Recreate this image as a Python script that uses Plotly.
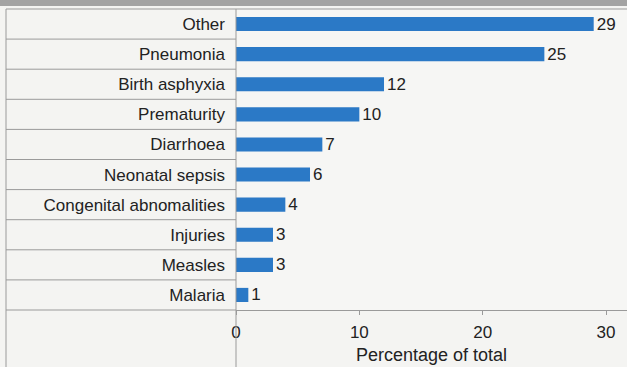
import plotly.graph_objects as go

causes = ["Other", "Pneumonia", "Birth asphyxia", "Prematurity", "Diarrhoea",
          "Neonatal sepsis", "Congenital abnomalities", "Injuries", "Measles", "Malaria"]
percent = [29, 25, 12, 10, 7, 6, 4, 3, 3, 1]
x_ticks = [0, 10, 20, 30]

W, H = 627, 367
L, R, T, B = 236, 0, 9, 57
plot_w = W - L - R
plot_h = H - T - B

line_col = "#9a9a9a"
left_edge = (6 - L) / plot_w

fig = go.Figure(go.Bar(
    x=percent, y=causes, orientation="h",
    marker=dict(color="#2b79c6", line=dict(width=0)),
    width=0.47,
    text=percent, textposition="outside", cliponaxis=False,
    constraintext="none",
    textfont=dict(size=17, color="#222222"),
))

shapes = []
# row separators in the label column
for k in range(len(causes) - 1):
    shapes.append(dict(type="line", xref="paper", yref="y",
                       x0=left_edge, x1=0, y0=k + 0.5, y1=k + 0.5,
                       line=dict(color=line_col, width=1)))
# top border
shapes.append(dict(type="line", xref="paper", yref="paper",
                   x0=left_edge, x1=1, y0=1, y1=1,
                   line=dict(color=line_col, width=1)))
# bottom border (axis line extended to the left)
shapes.append(dict(type="line", xref="paper", yref="paper",
                   x0=left_edge, x1=0, y0=0, y1=0,
                   line=dict(color=line_col, width=1)))
# left border and the column divider, running to the bottom
for xp in (left_edge, 0):
    shapes.append(dict(type="line", xref="paper", yref="paper",
                       x0=xp, x1=xp, y0=-(B + 2) / plot_h, y1=1,
                       line=dict(color=line_col, width=1)))
# grey band at the very top
shapes.append(dict(type="rect", xref="paper", yref="paper",
                   x0=-1, x1=1.1, y0=1 + 3 / plot_h, y1=1 + 12 / plot_h,
                   fillcolor="#a3a3a3", line=dict(width=0), layer="above"))

fig.update_layout(
    width=W, height=H,
    margin=dict(l=L, r=R, t=T, b=B, autoexpand=False),
    paper_bgcolor="#f4f4f2", plot_bgcolor="#f6f6f4",
    font=dict(family="Liberation Sans, Arial, sans-serif", size=17, color="#222222"),
    showlegend=False,
    bargap=0.5,
    shapes=shapes,
    xaxis=dict(range=[0, 31.7], tickvals=x_ticks, ticks="outside", ticklen=4,
               tickcolor=line_col, showgrid=False, zeroline=False, automargin=False,
               showline=True, linecolor=line_col, linewidth=1, ticklabelstandoff=3,
               tickfont=dict(size=17), title=dict(text="Percentage of total",
                                                  font=dict(size=18), standoff=6)),
    yaxis=dict(autorange="reversed", showgrid=False, zeroline=False, automargin=False,
               showline=False, ticks="", ticklabelstandoff=10,
               tickfont=dict(size=17)),
)

# drop the browser's default page margin so the figure sits at the window corner
fig.write_html("out.html", config={"displayModeBar": False},
               post_script="document.body.style.margin='0';")
